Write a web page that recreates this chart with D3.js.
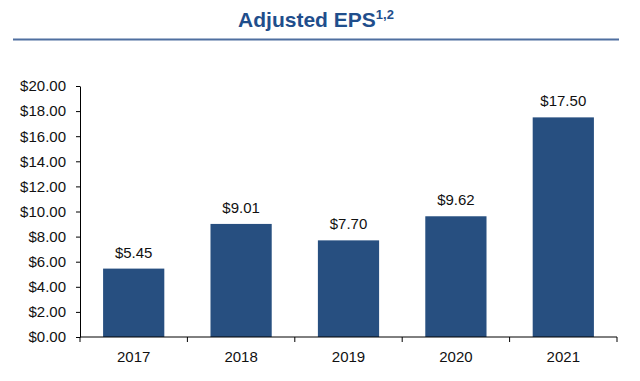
<!DOCTYPE html>
<html>
<head>
<meta charset="utf-8">
<script src="https://cdn.jsdelivr.net/npm/d3@7"></script>
<style>
  body { margin: 0; background: #fff; }
  text { font-family: "Liberation Sans", Arial, sans-serif; }
</style>
</head>
<body>
<svg id="chart" width="640" height="381"></svg>
<script>
var years = ['2017', '2018', '2019', '2020', '2021'];
var eps = [5.45, 9.01, 7.70, 9.62, 17.50];
var yTicks = [0, 2, 4, 6, 8, 10, 12, 14, 16, 18, 20];

var svg = d3.select('#chart');

// title + rule
var title = svg.append('text')
    .attr('x', 316).attr('y', 27)
    .attr('text-anchor', 'middle')
    .attr('fill', '#1f4e8c')
    .attr('font-size', 21)
    .attr('font-weight', 'bold');
title.append('tspan').text('Adjusted EPS');
title.append('tspan').attr('font-size', 13).attr('dy', -8).text('1,2');

svg.append('line')
    .attr('x1', 13).attr('x2', 619)
    .attr('y1', 39.5).attr('y2', 39.5)
    .attr('stroke', '#4f6fa0').attr('stroke-width', 2);

var plotL = 80, plotR = 617, plotT = 86, plotB = 337;

var x = d3.scaleBand().domain(years).range([plotL, plotR]).paddingInner(0.43).paddingOuter(0.215);
var y = d3.scaleLinear().domain([0, 20]).range([plotB, plotT]);

var fmt = function(d) { return '$' + d3.format('.2f')(d); };

// bars
svg.selectAll('rect.bar')
    .data(eps)
    .enter()
    .append('rect')
    .attr('class', 'bar')
    .attr('x', function(d, i) { return x(years[i]); })
    .attr('width', x.bandwidth())
    .attr('y', function(d) { return y(d); })
    .attr('height', function(d) { return plotB - y(d); })
    .attr('fill', '#274f80');

// value labels
svg.selectAll('text.val')
    .data(eps)
    .enter()
    .append('text')
    .attr('class', 'val')
    .attr('x', function(d, i) { return x(years[i]) + x.bandwidth() / 2; })
    .attr('y', function(d) { return y(d) - 11; })
    .attr('text-anchor', 'middle')
    .attr('font-size', 15)
    .attr('fill', '#111')
    .text(fmt);

// y axis
var gy = svg.append('g')
    .attr('transform', 'translate(' + plotL + ',0)')
    .call(d3.axisLeft(y).tickValues(yTicks).tickFormat(fmt).tickSize(4).tickSizeOuter(0).tickPadding(10));
gy.selectAll('text').attr('font-size', 15).attr('fill', '#111').attr('font-family', '"Liberation Sans", Arial, sans-serif');
gy.selectAll('line, path').attr('stroke', '#000');

// x axis with ticks at band edges
var xEdges = years.map(function(d) { return x(d) - x.step() * x.paddingInner() / 2; }).concat([plotR]);
var gx = svg.append('g')
    .attr('transform', 'translate(0,' + plotB + ')');
gx.append('line').attr('x1', plotL).attr('x2', plotR).attr('stroke', '#000');
gx.selectAll('line.tk')
    .data(xEdges)
    .enter()
    .append('line')
    .attr('class', 'tk')
    .attr('x1', function(d) { return d; }).attr('x2', function(d) { return d; })
    .attr('y1', 0).attr('y2', 5)
    .attr('stroke', '#000');
gx.selectAll('text.yr')
    .data(years)
    .enter()
    .append('text')
    .attr('class', 'yr')
    .attr('x', function(d) { return x(d) + x.bandwidth() / 2; })
    .attr('y', 25)
    .attr('text-anchor', 'middle')
    .attr('font-size', 15)
    .attr('fill', '#111')
    .text(function(d) { return d; });
</script>
</body>
</html>
